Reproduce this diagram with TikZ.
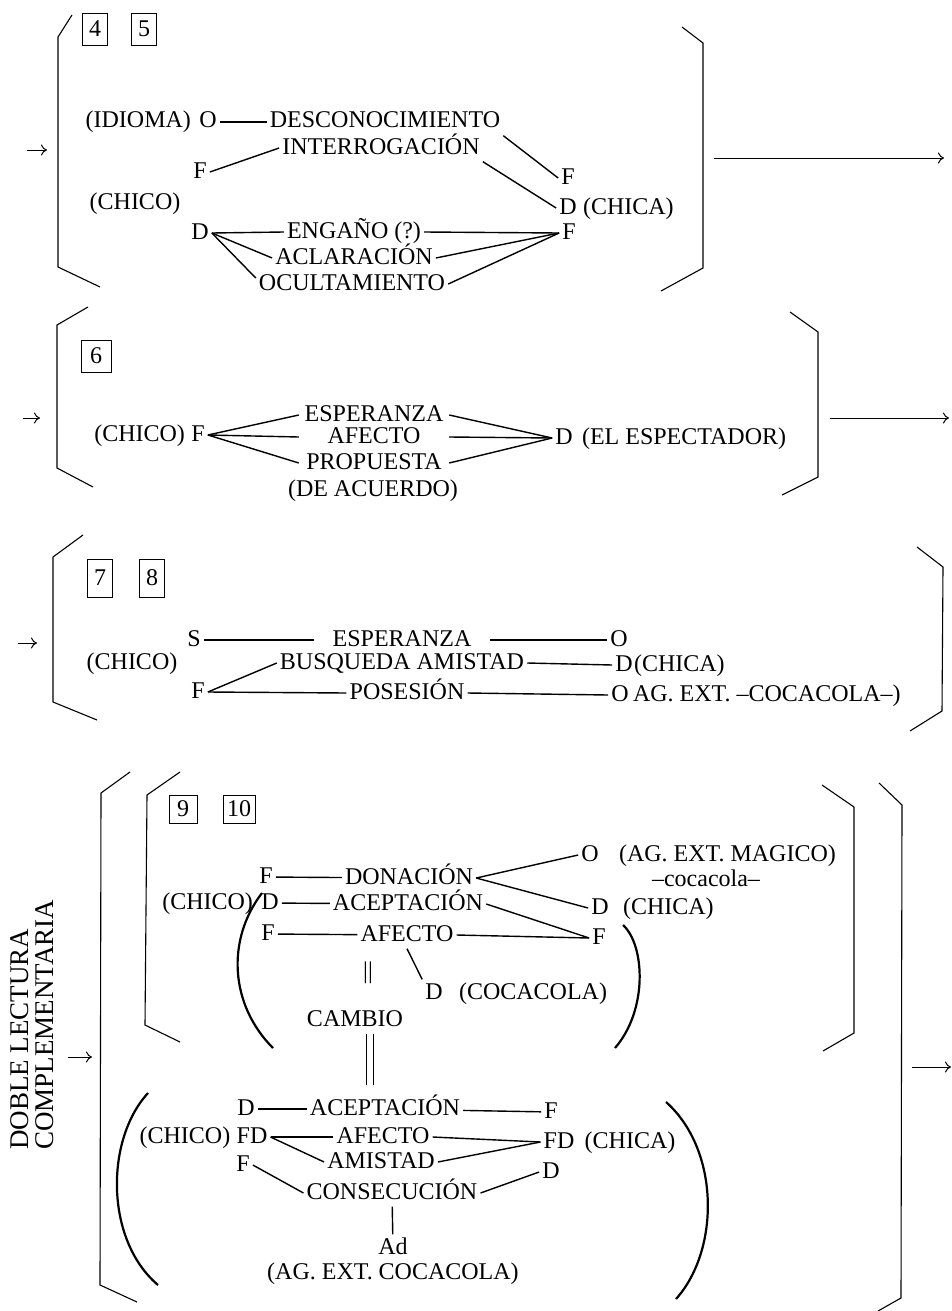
\documentclass[tikz,border=0pt]{standalone}
\usepackage{fontspec}
\setmainfont{Liberation Serif}
\usepackage{tikz}
\usetikzlibrary{arrows.meta, positioning}
\newcommand\lblsize{\fontsize{24}{27}\selectfont}
\newcommand\sidesize{\fontsize{27}{30}\selectfont}

\begin{document}
\begin{tikzpicture}[x=1pt, y=-1pt,
    lbl/.style={inner sep=3pt, font=\lblsize, text height=16.5pt, text depth=4.5pt},
    col/.style={lbl, minimum width=#1},
    num/.style={draw, line width=0.9pt, inner sep=0pt, font=\lblsize, minimum width=#1, minimum height=32pt},
    num/.default=25pt,
    link/.style={line width=1.4pt},
    dbl/.style={line width=1.2pt, double, double distance=6pt},
    brk/.style={line width=1.1pt},
    paren/.style={line width=2.2pt},
    arr/.style={line width=1pt, -{To[length=6pt, width=11pt]}}]
    \useasboundingbox (0,0) rectangle (952,1311);

    % Block 4 - 5
    \draw[brk] (72,15) -- (58,37) -- (58,267) -- (100,287);
    \draw[brk] (682,27) -- (703,43) -- (703,268) -- (661,291);
    \coordinate (inA) at (27,150);
    \coordinate (inB) at (47,150);
    \draw[arr] (inA) -- (inB);
    \coordinate (outA) at (714,158);
    \coordinate (outB) at (944,158);
    \draw[arr] (outA) -- (outB);
    \foreach \n/\x in {4/95, 5/144}
        \node[num] (box\n) at (\x,29) {\n};

    \node[lbl] (oA) at (208,122) {O};
    \node[lbl, left=2pt of oA] (idioma) {(IDIOMA)};
    \node[lbl] (desc) at (385,122) {DESCONOCIMIENTO};
    \node[lbl] (inter) at (381,148) {INTERROGACIÓN};
    \node[lbl] (fA) at (200,172) {F};
    \node[lbl] (chicoA) at (135,203) {(CHICO)};
    \node[lbl] (dA) at (200,233) {D};
    \node[lbl] (engano) at (354,232) {ENGAÑO (?)};
    \node[lbl] (aclar) at (354,258) {ACLARACIÓN};
    \node[lbl] (ocult) at (352,284) {OCULTAMIENTO};
    \node[lbl] (fB) at (568,178) {F};
    \node[lbl] (dB) at (568,208) {D};
    \node[lbl, right=0pt of dB] (chicaA) {(CHICA)};
    \node[lbl] (fC) at (569,233) {F};

    \draw[link] (oA) -- (desc);
    \draw[link] (fA.east) -- (inter.west);
    \draw[link] (desc.south east) -- (fB.west);
    \draw[link] (inter.south east) -- (dB.west);
    \foreach \t in {engano, aclar} {
        \draw[link] (dA.east) -- (\t.west);
        \draw[link] (\t.east) -- (fC.west);
    }
    \draw[link] (dA.east) -- ([yshift=6pt]ocult.west);
    \draw[link] (ocult.east) -- (fC.west);

    % Block 6
    \draw[brk] (88,307) -- (57,325) -- (57,468) -- (93,487);
    \draw[brk] (790,312) -- (818,332) -- (818,477) -- (782,495);
    \coordinate (inC) at (23,418);
    \coordinate (inD) at (40,418);
    \draw[arr] (inC) -- (inD);
    \coordinate (outC) at (830,418);
    \coordinate (outD) at (949,418);
    \draw[arr] (outC) -- (outD);
    \node[num=30pt] (box6) at (96,356) {6};

    \node[lbl] (fD) at (198,435) {F};
    \node[lbl, left=0pt of fD] (chicoB) {(CHICO)};
    \node[col=150pt] (espB) at (374,415) {ESPERANZA};
    \node[col=150pt] (afecB) at (374,437) {AFECTO};
    \node[col=150pt] (propB) at (374,463) {PROPUESTA};
    \node[lbl] (acuerdo) at (373,490) {(DE ACUERDO)};
    \node[lbl] (dD) at (564,438) {D};
    \node[lbl, right=3pt of dD] (espect) {(EL ESPECTADOR)};

    \foreach \t in {espB, afecB, propB} {
        \draw[link] (fD.east) -- (\t.west);
        \draw[link] (\t.east) -- (dD.west);
    }

    % Block 7 - 8
    \draw[brk] (83,535) -- (53,557) -- (53,702) -- (97,720);
    \draw[brk] (917,547) -- (943,567) -- (942,711) -- (910,731);
    \coordinate (inE) at (18,643);
    \coordinate (inF) at (37,643);
    \draw[arr] (inE) -- (inF);
    \foreach \n/\x in {7/100, 8/152}
        \node[num, minimum height=38pt] (box\n) at (\x,578) {\n};

    \node[lbl] (sC) at (194,640) {S};
    \node[col=175pt] (espC) at (402,640) {ESPERANZA};
    \node[lbl] (oC) at (619,640) {O};
    \node[lbl] (chicoC) at (132,663) {(CHICO)};
    \node[lbl] (busq) at (402,663) {BUSQUEDA AMISTAD};
    \node[lbl] (dC) at (624,665) {D};
    \node[lbl, right=-5pt of dC] (chicaC) {(CHICA)};
    \node[lbl] (fE) at (198,692) {F};
    \node[lbl] (poses) at (407,693) {POSESIÓN};
    \node[lbl] (oD) at (620,695) {O};
    \node[lbl, right=-2pt of oD] (agext) {AG. EXT. --COCACOLA--)};

    \draw[link] (sC) -- (espC);
    \draw[link] (espC) -- (oC);
    \draw[link] (busq.east) -- (dC.west);
    \draw[link] (fE.east) -- (busq.west);
    \draw[link] (fE.east) -- (poses.west);
    \draw[link] (poses.east) -- (oD.west);

    % Block 9 - 10: double reading
    \draw[brk] (130,772) -- (101,793) -- (100,1285) -- (137,1302);
    \draw[brk] (180,772) -- (147,795) -- (145,1025) -- (180,1042);
    \draw[brk] (822,785) -- (854,807) -- (854,1033) -- (823,1051);
    \draw[brk] (879,783) -- (902,805) -- (901,1298) -- (878,1311);
    \node[lbl, font=\sidesize, rotate=90, anchor=west] (dobleA) at (22,1153) {DOBLE LECTURA};
    \node[lbl, font=\sidesize, rotate=90, anchor=west] (dobleB) at (47,1153) {COMPLEMENTARIA};
    \coordinate (inG) at (68,1057);
    \coordinate (inH) at (92,1057);
    \draw[arr] (inG) -- (inH);
    \coordinate (outE) at (912,1067);
    \coordinate (outF) at (951,1067);
    \draw[arr] (outE) -- (outF);
    \node[num=28pt, minimum height=28pt] (box9) at (183,809) {9};
    \node[num=32pt, minimum height=28pt] (box10) at (239,809) {10};

    % upper reading
    \node[lbl] (fF) at (266,877) {F};
    \node[lbl] (donac) at (409,878) {DONACIÓN};
    \node[lbl] (oE) at (590,855) {O};
    \node[lbl, right=14pt of oE] (magico) {(AG. EXT. MAGICO)};
    \node[lbl] (cocaS) at (706,880) {--cocacola--};
    \node[lbl] (dE) at (270,903) {D};
    \node[lbl, left=2pt of dE] (chicoD) {(CHICO)};
    \node[lbl] (acepA) at (408,904) {ACEPTACIÓN};
    \node[lbl] (dF) at (600,908) {D};
    \node[lbl, right=8pt of dF] (chicaD) {(CHICA)};
    \node[lbl] (fG) at (268,934) {F};
    \node[lbl] (afecA) at (407,935) {AFECTO};
    \node[lbl] (fH) at (599,938) {F};
    \node[lbl] (eqA) at (368,972) {||};
    \node[lbl] (dG) at (434,993) {D};
    \node[lbl, right=10pt of dG] (coca) {(COCACOLA)};
    \node[lbl] (cambio) at (355,1020) {CAMBIO};

    \draw[link] (fF) -- (donac);
    \draw[link] (donac.east) -- (oE.west);
    \draw[link] (donac.east) -- (dF.west);
    \draw[link] (dE) -- (acepA);
    \draw[link] (acepA.east) -- (fH.west);
    \draw[link] (fG) -- (afecA);
    \draw[link] (afecA.east) -- (fH.west);
    \draw[link] (afecA.south) -- (dG.north west);
    \draw[paren] (262,893) .. controls (226,940) and (230,1005) .. (273,1048);
    \draw[paren] (623,925) .. controls (645,945) and (648,1010) .. (615,1048);

    % lower reading
    \node[lbl] (dH) at (246,1109) {D};
    \node[lbl] (acepB) at (385,1109) {ACEPTACIÓN};
    \node[lbl] (fI) at (551,1112) {F};
    \node[lbl] (fdA) at (252,1137) {FD};
    \node[lbl, left=0pt of fdA] (chicoE) {(CHICO)};
    \node[lbl] (afecC) at (383,1137) {AFECTO};
    \node[lbl] (fdB) at (559,1142) {FD};
    \node[lbl, right=4pt of fdB] (chicaE) {(CHICA)};
    \node[lbl] (amist) at (381,1162) {AMISTAD};
    \node[lbl] (fJ) at (243,1165) {F};
    \node[lbl] (dI) at (551,1172) {D};
    \node[lbl] (consec) at (392,1193) {CONSECUCIÓN};
    \node[lbl] (ad) at (393,1248) {Ad};
    \node[lbl] (agcoca) at (393,1273) {(AG. EXT. COCACOLA)};

    \draw[dbl, shorten >=10pt] ([xshift=15pt]cambio.south) -- ([xshift=15pt]cambio.south |- acepB.north);
    \draw[link] (dH) -- (acepB);
    \draw[link] (acepB) -- (fI);
    \draw[link] (fdA.east) -- (afecC.west);
    \draw[link] (fdA.east) -- (amist.west);
    \draw[link] (afecC.east) -- (fdB.west);
    \draw[link] (amist.east) -- (fdB.west);
    \draw[link] (fJ.east) -- (consec.west);
    \draw[link] (consec.east) -- (dI.west);
    \draw[link] (consec) -- (ad);
    \draw[paren] (148,1093) .. controls (105,1140) and (105,1240) .. (158,1285);
    \draw[paren] (666,1102) .. controls (720,1150) and (720,1250) .. (676,1299);
\end{tikzpicture}
\end{document}
